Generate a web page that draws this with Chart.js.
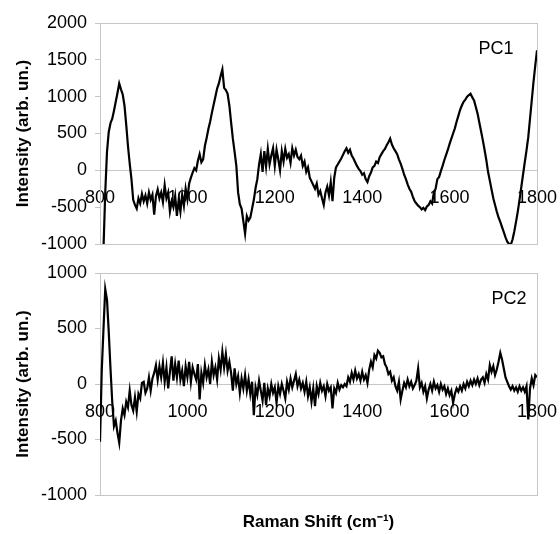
<!DOCTYPE html>
<html>
<head>
<meta charset="utf-8">
<script src="https://cdn.jsdelivr.net/npm/chart.js@4.4.1/dist/chart.umd.min.js"></script>
<style>
  html, body { margin: 0; padding: 0; background: #fff; }
  canvas { display: block; }
</style>
</head>
<body>
<canvas id="pc1Chart" width="560" height="258"></canvas>
<canvas id="pc2Chart" width="560" height="276"></canvas>
<script>
// Raman shift axis (cm-1), shared by both loadings
const ramanShift = [
  800, 804, 808, 812, 816, 820, 824, 828, 832, 836, 840, 844, 848, 852, 856, 860, 864, 868, 872, 876, 880, 884, 888, 892, 896,
  900, 904, 908, 912, 916, 920, 924, 928, 932, 936, 940, 944, 948, 952, 956, 960, 964, 968, 972, 976, 980, 984, 988, 992, 996,
  1000, 1004, 1008, 1012, 1016, 1020, 1024, 1028, 1032, 1036, 1040, 1044, 1048, 1052, 1056, 1060, 1064, 1068, 1072, 1076, 1080, 1084, 1088, 1092, 1096,
  1100, 1104, 1108, 1112, 1116, 1120, 1124, 1128, 1132, 1136, 1140, 1144, 1148, 1152, 1156, 1160, 1164, 1168, 1172, 1176, 1180, 1184, 1188, 1192, 1196,
  1200, 1204, 1208, 1212, 1216, 1220, 1224, 1228, 1232, 1236, 1240, 1244, 1248, 1252, 1256, 1260, 1264, 1268, 1272, 1276, 1280, 1284, 1288, 1292, 1296,
  1300, 1304, 1308, 1312, 1316, 1320, 1324, 1328, 1332, 1336, 1340, 1344, 1348, 1352, 1356, 1360, 1364, 1368, 1372, 1376, 1380, 1384, 1388, 1392, 1396,
  1400, 1404, 1408, 1412, 1416, 1420, 1424, 1428, 1432, 1436, 1440, 1444, 1448, 1452, 1456, 1460, 1464, 1468, 1472, 1476, 1480, 1484, 1488, 1492, 1496,
  1500, 1504, 1508, 1512, 1516, 1520, 1524, 1528, 1532, 1536, 1540, 1544, 1548, 1552, 1556, 1560, 1564, 1568, 1572, 1576, 1580, 1584, 1588, 1592, 1596,
  1600, 1604, 1608, 1612, 1616, 1620, 1624, 1628, 1632, 1636, 1640, 1644, 1648, 1652, 1656, 1660, 1664, 1668, 1672, 1676, 1680, 1684, 1688, 1692, 1696,
  1700, 1704, 1708, 1712, 1716, 1720, 1724, 1728, 1732, 1736, 1740, 1744, 1748, 1752, 1756, 1760, 1764, 1768, 1772, 1776, 1780, 1784, 1788, 1792, 1796,
  1800
];

// PC1 loading
const pc1 = [
  null, null, -1060, -300, 250, 520, 640, 700, 810, 930, 1050, 1180, 1100, 1030, 880, 620, 330, 90, -120, -400, -470, -520, -380, -450, -320,
  -420, -340, -450, -300, -400, -330, -600, -350, -260, -380, -300, -430, -200, -380, -300, -560, -420, -500, -350, -620, -400, -560, -330, -480, -250,
  -390, -180, -100, -30, 30, 0, 130, 220, 110, 150, 330, 440, 560, 660, 780, 890, 1000, 1110, 1180, 1280, 1370, 1120, 1090, 1040, 880,
  650, 430, 250, 60, -300, -460, -520, -690, -860, -620, -680, -640, -520, -400, -240, -120, 80, 220, -20, 260, 50, 290, 80, 200, 300,
  60, 280, 150, 0, 260, 120, 290, 170, 220, 100, 300, 200, 280, 180, 150, 200, 60, 120, -20, 40, -100, -150, -200, -250, -180,
  -330, -280, -380, -470, -300, -220, -340, -160, -420, -100, 40, 80, 120, 160, 210, 260, 300, 240, 280, 200, 160, 110, 60, 20, -10,
  -60, -40, -120, -160, -80, -30, 40, 60, 120, 100, 180, 220, 260, 290, 340, 380, 430, 350, 300, 260, 220, 150, 90, 20, -60,
  -120, -190, -250, -290, -360, -420, -450, -480, -500, -530, -510, -540, -490, -470, -420, -450, -300, -250, -120, -90, -10, 60, 140, 210, 280,
  360, 430, 500, 570, 660, 740, 820, 880, 930, 960, 1000, 1020, 1040, 990, 950, 860, 770, 650, 530, 410, 280, 140, -20, -140, -260,
  -380, -470, -560, -640, -700, -770, -840, -910, -970, -1000, -1010, -940, -830, -700, -560, -400, -230, -60, 110, 270, 450, 700, 950, 1200, 1420,
  1630
];

// PC2 loading
const pc2 = [
  -520, 120, 500, 855, 760, 470, 140, -160, -380, -330, -440, -530, -330, -220, -280, -160, -210, -60, -190, -240, -120, -250, -90, -130, 10,
  20, -80, -40, 60, -60, 50, 100, 170, 40, 160, 60, 190, 20, 150, -40, 110, 250, 30, 180, 60, 210, 40, 120, -20, 160,
  60, 200, 20, 150, 90, 40, 180, -140, 100, 10, 170, 60, 130, 0, 200, 80, 150, 40, 230, 130, 290, 150, 270, 120, 200,
  100, -60, 140, 0, 70, -80, 50, -40, 80, -60, 40, -90, 20, -280, -30, -100, 30, -60, -150, 10, -190, -40, -110, 0, -80,
  -30, -170, -20, -90, 0, -60, -130, 20, -50, 50, -30, 30, 90, -20, 40, -40, 10, -70, 20, -110, -30, -160, -40, -200, -20,
  -90, 10, -60, -20, -110, 0, -60, -30, -220, -40, -80, 10, -50, -10, -30, 0, -20, 60, 20, 100, 40, 120, 50, 90, 30,
  110, 40, 80, 10, 130, 200, 150, 260, 230, 300, 280, 240, 250, 180, 150, 90, 110, 30, 60, -20, -60, 20, -140, -60, 10,
  -30, 40, -20, 20, -40, -10, 30, 140, -30, 10, -70, -20, -130, -50, 0, -60, 20, -40, -10, -70, 0, -50, -20, -90, -40,
  -100, -60, -170, -90, -40, -70, -20, -60, 0, -40, 20, -20, 30, -10, 40, 0, 50, -10, 40, 60, 10, 90, 40, 170, 110,
  160, 80, 130, 200, 280, 220, 140, 60, 20, -20, -50, -20, -60, -30, -70, -20, -60, -30, -70, -20, -320, -40, 50, -10, 80,
  60
];

const xTicks = { min: 800, max: 1800, step: 200 };
const pc1Ticks = { min: -1000, max: 2000, step: 500 };
const pc2Ticks = { min: -1000, max: 1000, step: 500 };

Chart.defaults.font.family = '"Liberation Sans", Arial, sans-serif';
Chart.defaults.color = '#000';

const GRAY = '#c6c6c6';

// gray frame round the plot area plus the panel tag (PC1 / PC2)
const framePlugin = {
    id: 'frame',
    beforeDatasetsDraw(chart, args, opts) {
        const a = chart.chartArea;
        const ctx = chart.ctx;
        ctx.save();
        ctx.strokeStyle = GRAY;
        ctx.lineWidth = 1;
        ctx.strokeRect(a.left + 0.5, a.top + 0.5, a.right - a.left, a.bottom - a.top);
        ctx.restore();
    },
    afterDraw(chart, args, opts) {
        const a = chart.chartArea;
        const ctx = chart.ctx;
        ctx.save();
        ctx.fillStyle = '#000';
        ctx.font = '18px "Liberation Sans", Arial, sans-serif';
        ctx.textAlign = 'center';
        ctx.textBaseline = 'middle';
        ctx.fillText(opts.tag, a.right - opts.dx, a.top + opts.dy);
        ctx.restore();
    }
};

// labels may overhang the plot area, so drop the automatic edge padding
function noOverhang(scale) {
    scale.paddingLeft = 0;
    scale.paddingRight = 0;
    scale.paddingTop = 0;
    scale.paddingBottom = 0;
}

function buildChart(canvasId, values, yRange, tag, extra) {
    const ctx = document.getElementById(canvasId).getContext('2d');
    const points = ramanShift.map((x, i) => ({ x: x, y: values[i] }));
    return new Chart(ctx, {
        type: 'line',
        data: {
            datasets: [{
                data: points,
                borderColor: '#000',
                borderWidth: 2.2,
                pointRadius: 0,
                tension: 0,
                fill: false
            }]
        },
        options: {
            responsive: false,
            animation: false,
            devicePixelRatio: 1,
            layout: { padding: extra.padding },
            plugins: {
                legend: { display: false },
                tooltip: { enabled: false },
                title: extra.title,
                frame: { tag: tag, dx: extra.tagDx, dy: extra.tagDy }
            },
            scales: {
                x: {
                    type: 'linear',
                    position: { y: 0 },
                    min: xTicks.min,
                    max: xTicks.max,
                    grid: { display: false, drawTicks: false },
                    border: { display: true, color: GRAY, width: 1 },
                    ticks: {
                        stepSize: xTicks.step,
                        padding: 17,
                        maxRotation: 0,
                        autoSkip: false,
                        font: { size: 18 },
                        callback: v => String(v)
                    },
                    afterFit: noOverhang
                },
                y: {
                    min: yRange.min,
                    max: yRange.max,
                    grid: { display: true, drawOnChartArea: false, drawTicks: true, tickLength: 5, color: GRAY },
                    border: { display: true, color: GRAY, width: 1 },
                    ticks: {
                        stepSize: yRange.step,
                        padding: 8,
                        font: { size: 18 },
                        callback: v => String(v)
                    },
                    title: {
                        display: true,
                        text: 'Intensity (arb. un.)',
                        font: { size: 17, weight: 'bold' },
                        padding: { top: 13, bottom: 0 }
                    },
                    afterFit: scale => { scale.width = 100; noOverhang(scale); }
                }
            }
        },
        plugins: [framePlugin]
    });
}

buildChart('pc1Chart', pc1, pc1Ticks, 'PC1', {
    padding: { top: 23, right: 23, bottom: 14, left: 0 },
    title: { display: false },
    tagDx: 41,
    tagDy: 26
});

buildChart('pc2Chart', pc2, pc2Ticks, 'PC2', {
    padding: { top: 15, right: 23, bottom: 1, left: 0 },
    title: {
        display: true,
        position: 'bottom',
        fullSize: false,
        text: 'Raman Shift (cm\u207B\u00B9)',
        color: '#000',
        font: { size: 17, weight: 'bold' },
        padding: { top: 17.6, bottom: 0 }
    },
    tagDx: 28,
    tagDy: 26
});
</script>
</body>
</html>
